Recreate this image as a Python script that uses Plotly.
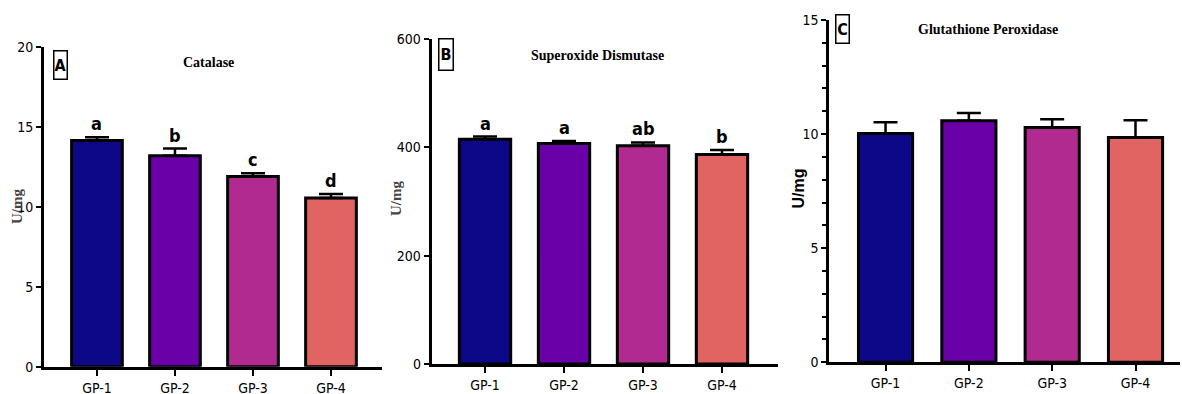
import plotly.graph_objects as go

groups = ["GP-1", "GP-2", "GP-3", "GP-4"]
colors = ["#0d0887", "#6a00a8", "#b12a90", "#e16462"]

cat_mean = [14.15, 13.2, 11.9, 10.55]
cat_err = [0.2, 0.45, 0.2, 0.25]
cat_letters = ["a", "b", "c", "d"]

sod_mean = [415, 407, 403, 387]
sod_err = [5, 4.5, 6, 8]
sod_letters = ["a", "a", "ab", "b"]

gpx_mean = [10.03, 10.58, 10.29, 9.85]
gpx_err = [0.49, 0.35, 0.36, 0.76]

titles = ["Catalase", "Superoxide Dismutase", "Glutathione Peroxidase"]
panel_tags = ["A", "B", "C"]

W, H = 1182, 394
NARROW = "Liberation Sans Narrow, Arial Narrow, DejaVu Sans Condensed, Liberation Sans, Arial, sans-serif"
SERIF = "Liberation Serif, Times New Roman, DejaVu Serif, serif"
TICKFONT = dict(family=NARROW, size=14, color="black")


def px(x):
    return x / W


def py(y):
    return 1 - y / H


fig = go.Figure()

panels = [
    dict(mean=cat_mean, err=cat_err, letters=cat_letters, xd=(44, 382), yd=(47, 366.7),
         xr=(-0.679, 3.654), yr=(0, 20), dtick=5, minor=False),
    dict(mean=sod_mean, err=sod_err, letters=sod_letters, xd=(431.7, 778), yd=(39, 364),
         xr=(-0.675, 3.709), yr=(0, 600), dtick=200, minor=False),
    dict(mean=gpx_mean, err=gpx_err, letters=None, xd=(829.3, 1180), yd=(20, 362.3),
         xr=(-0.675, 3.534), yr=(0, 15), dtick=5, minor=True),
]

for i, p in enumerate(panels):
    n = "" if i == 0 else str(i + 1)
    xa, ya = "x" + n, "y" + n
    fig.add_trace(go.Bar(
        x=list(range(4)), y=p["mean"], xaxis=xa, yaxis=ya, width=0.65,
        marker=dict(color=colors, line=dict(color="black", width=3)),
        error_y=dict(type="data", symmetric=False, array=p["err"], arrayminus=[0] * 4,
                     color="black", thickness=2.5, width=12),
        showlegend=False, hoverinfo="skip",
    ))
    xaxis = dict(domain=[px(p["xd"][0]), px(p["xd"][1])], range=list(p["xr"]), anchor=ya,
                 tickmode="array", tickvals=list(range(4)), ticktext=groups,
                 showline=True, linecolor="black", linewidth=3, ticks="outside",
                 ticklen=6, tickwidth=2, tickcolor="black", showgrid=False, zeroline=False,
                 tickfont=TICKFONT, fixedrange=True, automargin=False)
    yaxis = dict(domain=[py(p["yd"][1]), py(p["yd"][0])], range=list(p["yr"]), anchor=xa,
                 dtick=p["dtick"], showline=True, linecolor="black", linewidth=3,
                 ticks="outside", ticklen=5, tickwidth=2, tickcolor="black",
                 showgrid=False, zeroline=False, tickfont=TICKFONT, fixedrange=True,
                 automargin=False)
    if p["minor"]:
        yaxis["minor"] = dict(dtick=1, ticks="outside", ticklen=4, tickwidth=2, tickcolor="black")
    fig.update_layout(**{"xaxis" + n: xaxis, "yaxis" + n: yaxis})
    if p["letters"]:
        for k, lab in enumerate(p["letters"]):
            fig.add_annotation(x=k, y=p["mean"][k] + p["err"][k], xref=xa, yref=ya,
                               text="<b>%s</b>" % lab, showarrow=False, yanchor="bottom", yshift=1,
                               font=dict(family=NARROW, size=18, color="black"))

# titles
title_pos = [(208, 63), (597, 55), (988, 29)]
for t, (x, y) in zip(titles, title_pos):
    fig.add_annotation(x=px(x), y=py(y), xref="paper", yref="paper", text="<b>%s</b>" % t,
                       showarrow=False, xanchor="center", yanchor="middle",
                       font=dict(family=SERIF, size=14, color="black"))

# panel tags
tag_pos = [(60, 65, 12, 27), (446.5, 54.5, 13, 30), (842.5, 29, 12, 27)]
for t, (x, y, w, h) in zip(panel_tags, tag_pos):
    fig.add_annotation(x=px(x), y=py(y), xref="paper", yref="paper", text="<b>%s</b>" % t,
                       showarrow=False, xanchor="center", yanchor="middle", width=w, height=h,
                       bordercolor="black", borderwidth=1.5, borderpad=0,
                       font=dict(family=NARROW, size=16, color="black"))

# y-axis titles
ytitle_specs = [
    (17, 207, SERIF, 15, "#444444"),
    (396, 199, SERIF, 15, "#444444"),
    (798.5, 189, "Liberation Sans, Arial, sans-serif", 16, "black"),
]
for x, y, fam, size, col in ytitle_specs:
    fig.add_annotation(x=px(x), y=py(y), xref="paper", yref="paper", text="<b>U/mg</b>",
                       textangle=-90, showarrow=False, xanchor="center", yanchor="middle",
                       font=dict(family=fam, size=size, color=col))

fig.update_layout(width=W, height=H, margin=dict(l=0, r=0, t=0, b=0, autoexpand=False),
                  paper_bgcolor="white", plot_bgcolor="white", bargap=0.35)

fig.write_html("out.html", config={"displayModeBar": False},
               post_script="document.body.style.margin='0';document.body.style.overflow='hidden';")
